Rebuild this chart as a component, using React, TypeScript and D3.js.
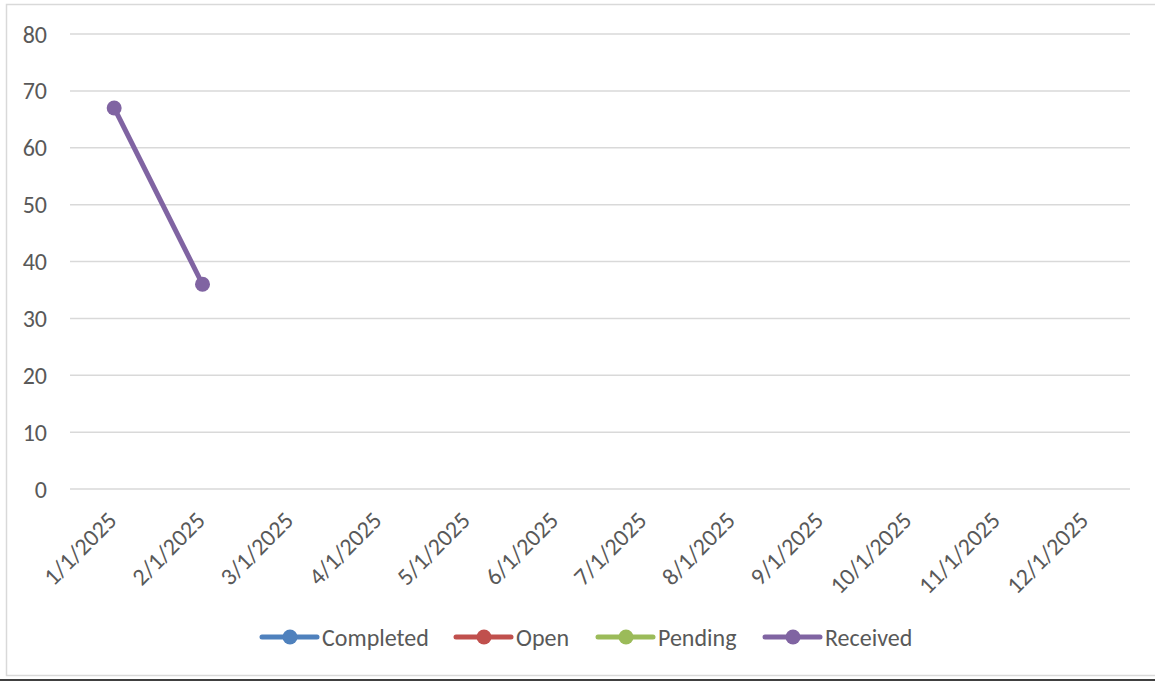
import React from "react";
import * as d3 from "d3";

const categories = ["1/1/2025","2/1/2025","3/1/2025","4/1/2025","5/1/2025","6/1/2025","7/1/2025","8/1/2025","9/1/2025","10/1/2025","11/1/2025","12/1/2025"];
const seriesNames = ["Completed","Open","Pending","Received"];
const seriesColors = ["#4F81BD","#C0504D","#9BBB59","#8064A2"];
const completed: (number|null)[] = [];
const open: (number|null)[] = [];
const pending: (number|null)[] = [];
const received: (number|null)[] = [67, 36];
const yTicks = [0,10,20,30,40,50,60,70,80];

const W = 1155, H = 681;
const font = "Carlito, Calibri, 'Open Sans', 'Liberation Sans', sans-serif";

export default function App() {
  const x = d3.scaleBand<string>().domain(categories).range([70, 1130]);
  const y = d3.scaleLinear().domain([0, 80]).range([489, 34]);
  const data = [completed, open, pending, received];
  const line = d3.line<[string, number]>().x(d => (x(d[0]) as number) + x.bandwidth()/2).y(d => y(d[1]));
  const legendX = [262, 456, 598, 765];
  return (
    <svg width={W} height={H} style={{position:"absolute", left:0, top:0, background:"#fff"}} fontFamily={font}>
      <rect x={6.5} y={4.5} width={1160} height={671} fill="#fff" stroke="#d9d9d9" strokeWidth={1.5}/>
      <line x1={0} x2={W} y1={680} y2={680} stroke="#000" strokeWidth={1.5}/>
      {yTicks.map(t => (
        <g key={t}>
          <line x1={70} x2={1130} y1={y(t)} y2={y(t)} stroke="#d9d9d9" strokeWidth={1.5}/>
          <text x={47} y={y(t)} textAnchor="end" dominantBaseline="central" fontSize={24} fill="#595959">{t}</text>
        </g>
      ))}
      {categories.map(c => {
        const cx = (x(c) as number) + x.bandwidth()/2;
        return <text key={c} transform={`translate(${cx + 4},${522}) rotate(-45)`} textAnchor="end" fontSize={24} fill="#595959">{c}</text>;
      })}
      {data.map((s, i) => {
        const pts = s.map((v, j) => [categories[j], v] as [string, number|null]).filter(d => d[1] != null) as [string, number][];
        return (
          <g key={i}>
            <path d={line(pts) || ""} fill="none" stroke={seriesColors[i]} strokeWidth={5} strokeLinecap="round"/>
            {pts.map((p, j) => <circle key={j} cx={(x(p[0]) as number) + x.bandwidth()/2} cy={y(p[1])} r={7.5} fill={seriesColors[i]}/>)}
          </g>
        );
      })}
      {seriesNames.map((n, i) => (
        <g key={n} transform={`translate(${legendX[i]},637)`}>
          <line x1={0} x2={55} y1={0} y2={0} stroke={seriesColors[i]} strokeWidth={5} strokeLinecap="round"/>
          <circle cx={28} cy={0} r={7.5} fill={seriesColors[i]}/>
          <text x={60} y={0} dominantBaseline="central" fontSize={24} fill="#595959">{n}</text>
        </g>
      ))}
    </svg>
  );
}
